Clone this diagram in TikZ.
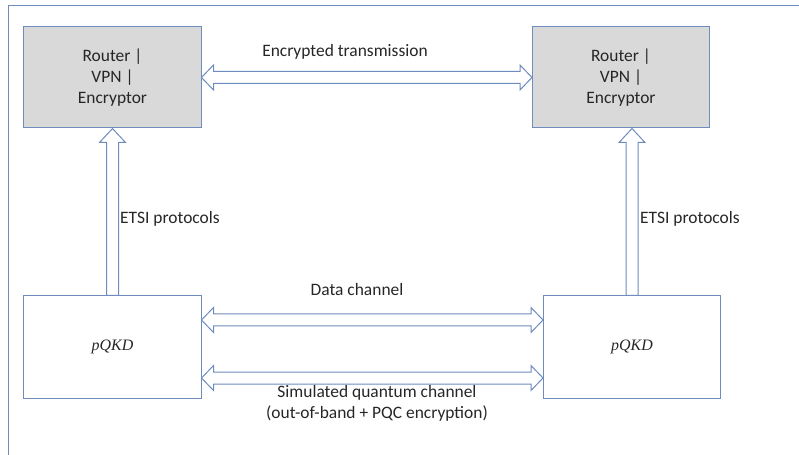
\documentclass[tikz,border=0pt]{standalone}
\usepackage{fontspec}
\setmainfont{Carlito}
\newfontfamily\qkdfont{Liberation Serif}
\usetikzlibrary{calc}
\definecolor{edge}{HTML}{6E8CBE}
\definecolor{boxfill}{HTML}{D9D9D9}
\definecolor{txt}{HTML}{262626}
\tikzset{
  dev/.style={draw=edge, line width=1bp, fill=boxfill, minimum width=177bp, minimum height=101bp, inner sep=0pt, align=center, text=txt, font=\fontsize{17.5}{21}\selectfont},
  qkd/.style={draw=edge, line width=1bp, fill=white, minimum width=177bp, minimum height=102bp, inner sep=0pt, text=txt, font=\qkdfont\itshape\fontsize{16}{18}\selectfont},
  fat/.style={draw=edge, line width=1bp, fill=white, line join=miter},
  lbl/.style={text=txt, font=\fontsize{17.5}{21}\selectfont, inner sep=0pt, align=center}
}
\newcommand\hdarrow[2]{%
  \draw[fat] (#1) -- ($(#1)+(12,-12.5)$) -- ($(#1)+(12,-6)$) -- ($(#2)+(-12,-6)$) -- ($(#2)+(-12,-12.5)$) -- (#2)
   -- ($(#2)+(-12,12.5)$) -- ($(#2)+(-12,6)$) -- ($(#1)+(12,6)$) -- ($(#1)+(12,12.5)$) -- cycle;}
\newcommand\vuarrow[2]{%
  \draw[fat] ($(#1)+(-6,0)$) -- ($(#2)+(-6,14)$) -- ($(#2)+(-13,14)$) -- (#2) -- ($(#2)+(13,14)$) -- ($(#2)+(6,14)$) -- ($(#1)+(6,0)$) -- cycle;}
\begin{document}
\begin{tikzpicture}[x=1bp,y=-1bp]
\useasboundingbox (0,0) rectangle (799,455);
\clip (0,0) rectangle (799,455);
\draw[edge, line width=1bp] (8,470) -- (8,6) -- (810,6);
\node[dev] (tl) at (112.5,77.5) {Router |\\VPN |\\Encryptor};
\node[dev] (tr) at (621,77.5) {Router |\\VPN |\\Encryptor};
\node[qkd] (pl) at (112.5,347) {pQKD};
\node[qkd] (pr) at (632,347) {pQKD};
% encrypted transmission
\hdarrow{tl.east}{tr.west}
\node[lbl] (lenc) at (345,52) {Encrypted transmission};
% vertical arrows
\coordinate (tlb) at (tl.south);
\coordinate (plt) at (pl.north);
\vuarrow{plt}{tlb}
\coordinate (trb) at (pr.north |- tr.south);
\coordinate (prt) at (pr.north);
\vuarrow{prt}{trb}
\node[lbl, anchor=west] (le1) at (120,219) {ETSI protocols};
\node[lbl, anchor=west] (le2) at (640,219) {ETSI protocols};
% data channel
\coordinate (d1) at ($(pl.east)+(0,-27)$);
\coordinate (d2) at ($(pr.west)+(0,-27)$);
\hdarrow{d1}{d2}
\node[lbl] (ldata) at (357,290) {Data channel};
% quantum channel
\coordinate (q1) at ($(pl.east)+(0,31)$);
\coordinate (q2) at ($(pr.west)+(0,31)$);
\hdarrow{q1}{q2}
\node[lbl] (lq) at (377,403.5) {Simulated quantum channel\\(out-of-band + PQC encryption)};
\end{tikzpicture}
\end{document}
